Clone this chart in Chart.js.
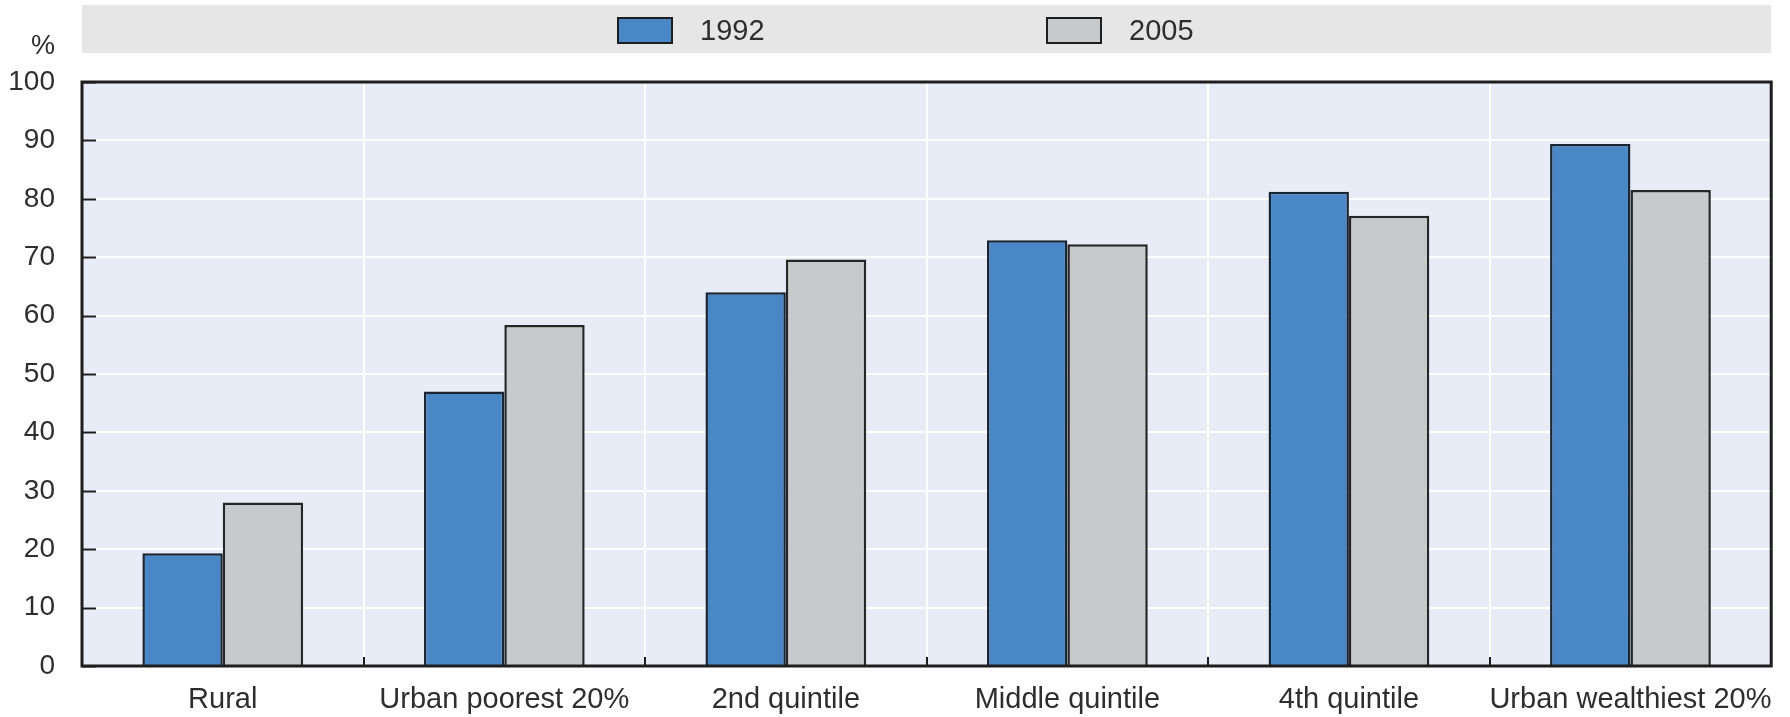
<!DOCTYPE html>
<html>
<head>
<meta charset="utf-8">
<script src="https://cdn.jsdelivr.net/npm/chart.js@4/dist/chart.umd.min.js"></script>
<style>
  html, body { margin: 0; padding: 0; background: #ffffff; }
  #wrap { width: 1790px; height: 717px; }
</style>
</head>
<body>
<div id="wrap"><canvas id="chart" width="1790" height="717"></canvas></div>
<script>
// Share of households (%) by area and income group
const categories = ['Rural', 'Urban poorest 20%', '2nd quintile', 'Middle quintile', '4th quintile', 'Urban wealthiest 20%'];
const seriesNames = ['1992', '2005'];
const values1992 = [19.3, 47.0, 64.0, 72.9, 81.2, 89.4];
const values2005 = [28.0, 58.4, 69.6, 72.2, 77.1, 81.5];
const yTicks = [0, 10, 20, 30, 40, 50, 60, 70, 80, 90, 100];
const unitLabel = '%';

const FONT = "'Liberation Sans', Arial, Helvetica, sans-serif";
const TEXT = '#2e2e2e';
const FRAME = '#1e1e1e';

// Backgrounds, frame, inward tick marks, legend band and unit label
const decor = {
  id: 'decor',
  beforeDraw(chart) {
    const { ctx, chartArea: a } = chart;
    ctx.save();
    ctx.fillStyle = '#ffffff';
    ctx.fillRect(0, 0, chart.width, chart.height);
    // legend band
    ctx.fillStyle = '#e6e6e6';
    ctx.fillRect(a.left, 5, a.right - a.left, 48);
    // plot background
    ctx.fillStyle = '#e8ecf6';
    ctx.fillRect(a.left, a.top, a.right - a.left, a.bottom - a.top);
    ctx.restore();
  },
  afterDatasetsDraw(chart) {
    const { ctx, chartArea: a, scales } = chart;
    const y = scales.y, x = scales.x;
    ctx.save();
    ctx.strokeStyle = FRAME;
    ctx.lineWidth = 2;
    // y ticks pointing into the plot
    yTicks.forEach(v => {
      const py = Math.round(y.getPixelForValue(v)) + 0.5;
      ctx.beginPath();
      ctx.moveTo(a.left, py);
      ctx.lineTo(a.left + 14, py);
      ctx.stroke();
    });
    // x ticks between categories, pointing up
    for (let i = 1; i < categories.length; i++) {
      const px = Math.round((x.getPixelForTick(i - 1) + x.getPixelForTick(i)) / 2);
      ctx.beginPath();
      ctx.moveTo(px, a.bottom);
      ctx.lineTo(px, a.bottom - 9);
      ctx.stroke();
    }
    // frame
    ctx.lineWidth = 3;
    ctx.strokeRect(a.left, a.top, a.right - a.left, a.bottom - a.top);

    // unit label
    ctx.fillStyle = TEXT;
    ctx.font = '27px ' + FONT;
    ctx.textAlign = 'right';
    ctx.textBaseline = 'middle';
    ctx.fillText(unitLabel, 55, 47);

    // legend items
    const itemX = [618, 1047];
    chart.data.datasets.forEach((ds, i) => {
      const bx = itemX[i];
      ctx.fillStyle = ds.backgroundColor;
      ctx.fillRect(bx, 18, 54, 25);
      ctx.strokeStyle = FRAME;
      ctx.lineWidth = 2;
      ctx.strokeRect(bx, 18, 54, 25);
      ctx.fillStyle = TEXT;
      ctx.font = '29px ' + FONT;
      ctx.textAlign = 'left';
      ctx.textBaseline = 'middle';
      ctx.fillText(ds.label, bx + 82, 32);
    });
    ctx.restore();
  }
};

new Chart(document.getElementById('chart'), {
  type: 'bar',
  data: {
    labels: categories,
    datasets: [
      {
        label: seriesNames[0],
        data: values1992,
        backgroundColor: '#4a87c6',
        borderColor: '#1a2533',
        borderWidth: 2.5,
        categoryPercentage: 0.571,
        barPercentage: 1.0
      },
      {
        label: seriesNames[1],
        data: values2005,
        backgroundColor: '#c8c9cb',
        borderColor: '#262626',
        borderWidth: 2.5,
        categoryPercentage: 0.571,
        barPercentage: 1.0
      }
    ]
  },
  options: {
    responsive: false,
    animation: false,
    events: [],
    layout: { padding: { left: 0, right: 18, top: 82, bottom: 0 } },
    plugins: {
      legend: { display: false },
      tooltip: { enabled: false },
      title: { display: false }
    },
    scales: {
      x: {
        offset: true,
        grid: { color: '#ffffff', lineWidth: 2, offset: true, drawTicks: false },
        border: { display: false },
        ticks: { color: TEXT, font: { family: FONT, size: 29 }, padding: 17, maxRotation: 0, autoSkip: false },
        afterFit(scale) { scale.height = 51; }
      },
      y: {
        min: 0,
        max: 100,
        afterBuildTicks(scale) { scale.ticks = yTicks.map(v => ({ value: v })); },
        grid: { color: '#ffffff', lineWidth: 2, drawTicks: false },
        border: { display: false },
        ticks: { color: TEXT, font: { family: FONT, size: 28 }, padding: 27 },
        afterFit(scale) { scale.width = 82; }
      }
    }
  },
  plugins: [decor]
});
</script>
</body>
</html>
